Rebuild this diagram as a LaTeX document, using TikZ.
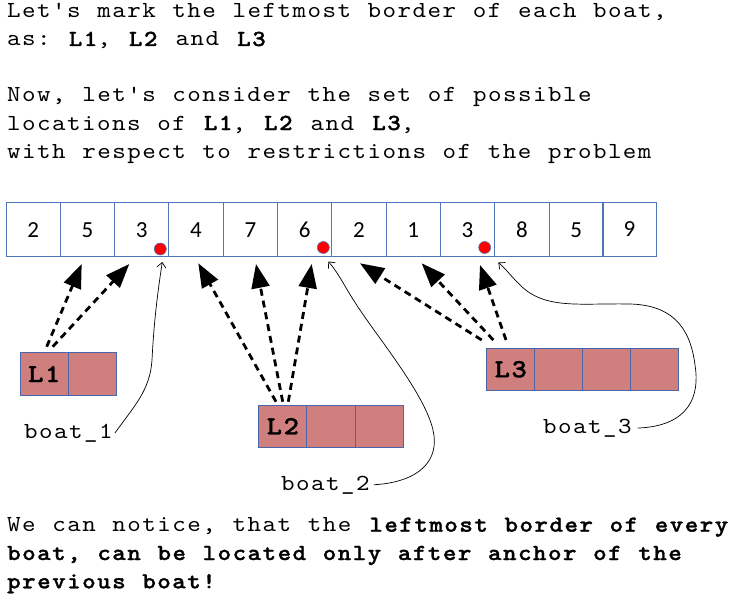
\documentclass[tikz,border=0pt]{standalone}
\usepackage{fontspec}
\setmonofont{lmmono10-regular.otf}[BoldFont=lmmonolt10-bold.otf, BoldFeatures={FakeBold=1.2}, FakeStretch=1.12, LetterSpace=6.4, WordSpace=1.109]
\newfontfamily\cellfont{Carlito}
\usetikzlibrary{arrows.meta}
\definecolor{cellblue}{HTML}{4F75BA}
\definecolor{boatfill}{HTML}{D07F7F}
\definecolor{boatline}{HTML}{4A66A8}
\tikzset{
  txt/.style={anchor=base west, inner sep=0pt, font=\ttfamily\fontsize{23}{26}\selectfont},
  cell/.style={draw=cellblue, line width=0.9pt, minimum width=54.3pt, minimum height=54pt, inner sep=0pt, font=\cellfont\fontsize{23}{26}\selectfont},
  bcell/.style={draw=boatline, fill=boatfill, line width=0.9pt, minimum width=48.2pt, minimum height=42.5pt, inner sep=0pt, font=\ttfamily\bfseries\fontsize{26}{28}\selectfont},
  anchordot/.style={circle, fill=red, draw=cellblue, line width=0.6pt, minimum size=12pt, inner sep=0pt},
  dasharrow/.style={line width=2.8pt, dash pattern=on 7pt off 5pt, -{Triangle[length=24pt,width=18pt]}},
  pointer/.style={line width=0.7pt, -{Straight Barb[length=5pt,width=9pt]}}
}
\begin{document}
\begin{tikzpicture}[x=1pt,y=-1pt]
\useasboundingbox (0,0) rectangle (738,599);
% top text
\node[txt] (t1) at (7,17.3) {Let's mark the leftmost border of each boat,};
\node[txt] (t2) at (7,46) {as: \textbf{L1}, \textbf{L2} and \textbf{L3}};
\node[txt] (t3) at (7,101.7) {Now, let's consider the set of possible};
\node[txt] (t4) at (7,130) {locations of \textbf{L1}, \textbf{L2} and \textbf{L3},};
\node[txt] (t5) at (7,158.3) {with respect to restrictions of the problem};
% array
\foreach \v [count=\i] in {2,5,3,4,7,6,2,1,3,8,5}
  \node[cell] (c\i) at ({6+54.3*(\i-0.5)},229.7) {\v};
\node[cell] (c12) at (629.4,229) {9};
% anchor dots
\node[anchordot] (d1) at (160.3,249) {};
\node[anchordot] (d2) at (323.3,247.5) {};
\node[anchordot] (d3) at (484.7,247.5) {};
% boats
\node[bcell] (b1a) at (44.2,374) {L1};
\node[bcell] (b1b) at (92.5,374) {};
\node[bcell] (b2a) at (282.8,426.2) {L2};
\node[bcell] (b2b) at (331,426.2) {};
\node[bcell] (b2c) at (379.2,426.2) {};
\node[bcell] (b3a) at (510.7,369.3) {L3};
\node[bcell] (b3b) at (558.7,369.3) {};
\node[bcell] (b3c) at (606.7,369.3) {};
\node[bcell] (b3d) at (654.7,369.3) {};
% boat labels
\node[txt] (l1) at (24,438.3) {boat\_1};
\node[txt] (l2) at (281,490) {boat\_2};
\node[txt] (l3) at (543,433.3) {boat\_3};
% dashed arrows
\coordinate (s11) at (46.7,346.7); \coordinate (s12) at (52.7,346.7);
\coordinate (e11) at (81.7,264); \coordinate (e12) at (129.3,264);
\draw[dasharrow] (s11) -- (e11);
\draw[dasharrow] (s12) -- (e12);
\coordinate (s21) at (276,401.7); \coordinate (s22) at (282.7,401.7); \coordinate (s23) at (288.3,401.7);
\coordinate (e21) at (198.3,263.3); \coordinate (e22) at (256,264); \coordinate (e23) at (311.7,264);
\draw[dasharrow] (s21) -- (e21);
\draw[dasharrow] (s22) -- (e22);
\draw[dasharrow] (s23) -- (e23);
\coordinate (s31) at (481.7,340); \coordinate (s32) at (493.3,340); \coordinate (s33) at (506,340);
\coordinate (e31) at (360,263.3); \coordinate (e32) at (421.7,263.3); \coordinate (e33) at (480,265);
\draw[dasharrow] (s31) -- (e31);
\draw[dasharrow] (s32) -- (e32);
\draw[dasharrow] (s33) -- (e33);
% pointer curves
\coordinate (p1) at (162.3,262);
\coordinate (p2) at (328.3,261.5);
\coordinate (p3) at (498.3,262.5);
\draw[pointer] ([xshift=2pt]l1.east) .. controls (135,405) and (150,390) .. (152,360) .. controls (154,320) and (158,290) .. (p1);
\draw[pointer] ([xshift=4pt]l2.east) .. controls (420,482) and (440,460) .. (433,430) .. controls (425,395) and (380,340) .. (360,310) .. controls (345,288) and (340,275) .. (p2);
\draw[pointer] ([xshift=6pt]l3.east) .. controls (690,426) and (700,395) .. (695,365) .. controls (690,325) and (670,305) .. (630,304) .. controls (580,303) and (545,310) .. (520,285) .. controls (510,275) and (505,268) .. (p3);
% bottom text
\node[txt] (t6) at (7,531.7) {We can notice, that the \textbf{leftmost border of every}};
\node[txt] (t7) at (7,560) {\textbf{boat, can be located only after anchor of the}};
\node[txt] (t8) at (7,588.3) {\textbf{previous boat!}};
\end{tikzpicture}
\end{document}
